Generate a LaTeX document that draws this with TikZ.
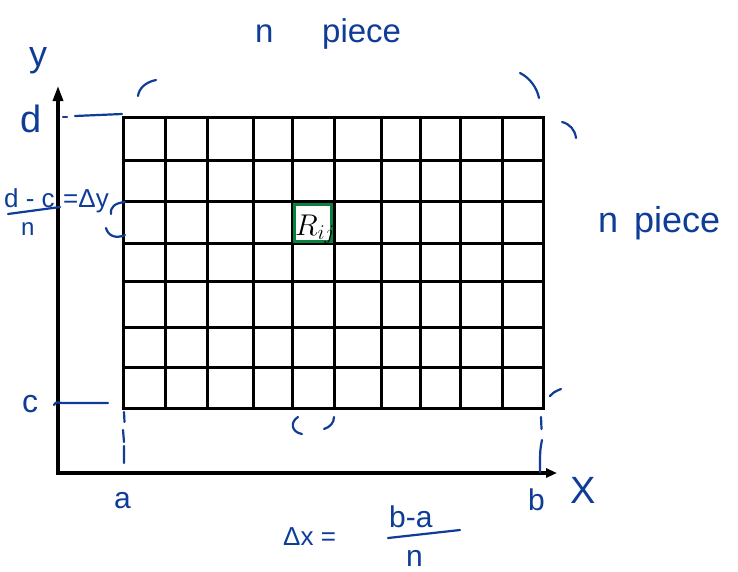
\documentclass[tikz,border=0pt]{standalone}
\usepackage{fix-cm}
\usepackage{fontspec}
\setmainfont{Liberation Sans}
\usetikzlibrary{arrows.meta}
\definecolor{ink}{RGB}{14,60,150}
\definecolor{boxgreen}{RGB}{12,128,62}
\begin{document}
\begin{tikzpicture}[x=1pt,y=-1pt,
  hand/.style={text=ink,inner sep=0pt,anchor=base west,font=\fontsize{#1}{#1}\selectfont},
  stroke/.style={ink,line width=2.2pt,line cap=round},
  gridline/.style={black,line width=3pt},
  axis/.style={black,line width=3.2pt}]
\useasboundingbox (0,0) rectangle (738,571);
\foreach \gx in {123,165,207,253,292,334,381,420,460,502,543}
  \draw[gridline] (\gx,115.5) -- (\gx,409.5);
\foreach \gy in {117,160,201,243,281,327,367,408}
  \draw[gridline] (121.5,\gy) -- (544.5,\gy);
\draw[axis,-{Triangle[length=15pt,width=10pt]}] (58,474.6) -- (58,86);
\draw[axis,-{Triangle[length=11pt,width=9pt]}] (56.4,473) -- (557,473);
\draw[boxgreen,line width=3pt] (294,204) rectangle (331,241);
\node[inner sep=0pt,anchor=base west,font=\fontsize{30}{32}\selectfont] (rij) at (295,235) {$R_{ij}$};
\node[hand=36] (ylab) at (29,66) {y};
\node[hand=38] (dlab) at (20,132) {d};
\node[hand=32] (clab) at (22,412) {c};
\node[hand=30] (alab) at (114,508) {a};
\node[hand=30] (blab) at (528,510) {b};
\node[hand=38] (xlab) at (570,503) {X};
\node[hand=33] (ntop) at (255,42) {n};
\node[hand=33] (piecetop) at (322,42) {piece};
\node[hand=36] (nright) at (598,232) {n};
\node[hand=36] (pieceright) at (634,232) {piece};
\node[hand=26] (dx) at (283,545) {Δx =};
\node[hand=30] (bma) at (389,527) {b-a};
\node[hand=30] (nx) at (406,566) {n};
\node[hand=26] (dmc) at (4,207) {d - c};
\node[hand=26] (dy) at (63,207) {=Δy};
\node[hand=24] (ny) at (21,235) {n};
\draw[stroke] (388,538) -- (460,530);
\draw[stroke] (8,214) -- (60,207);
\draw[stroke] (63,117) -- (67,117);
\draw[stroke] (75,116) -- (122,114);
\draw[stroke] (54,405) .. controls (56,402) .. (62,403) -- (108,403);
\draw[stroke] (124,412) -- (124.5,422) (123,430) -- (124,442) (124,446) -- (124,463);
\draw[stroke] (541,417) -- (541.5,429) (542,440) .. controls (540,450) .. (540,472);
\draw[stroke] (138,96) .. controls (139,88) and (146,82) .. (156,80);
\draw[stroke] (520,73) .. controls (530,78) and (537,88) .. (539,98);
\draw[stroke] (562,122) .. controls (570,124) and (575,130) .. (576,138);
\draw[stroke] (550,396) .. controls (554,392) .. (561,389);
\draw[stroke] (125,202) .. controls (115,203) and (110,207) .. (111,214);
\draw[stroke] (106,228) .. controls (108,236) and (116,239) .. (125,235);
\draw[stroke] (298,417) .. controls (290,422) and (291,432) .. (302,434);
\draw[stroke] (334,417) .. controls (334,423) and (330,427) .. (324,429);
\end{tikzpicture}
\end{document}
